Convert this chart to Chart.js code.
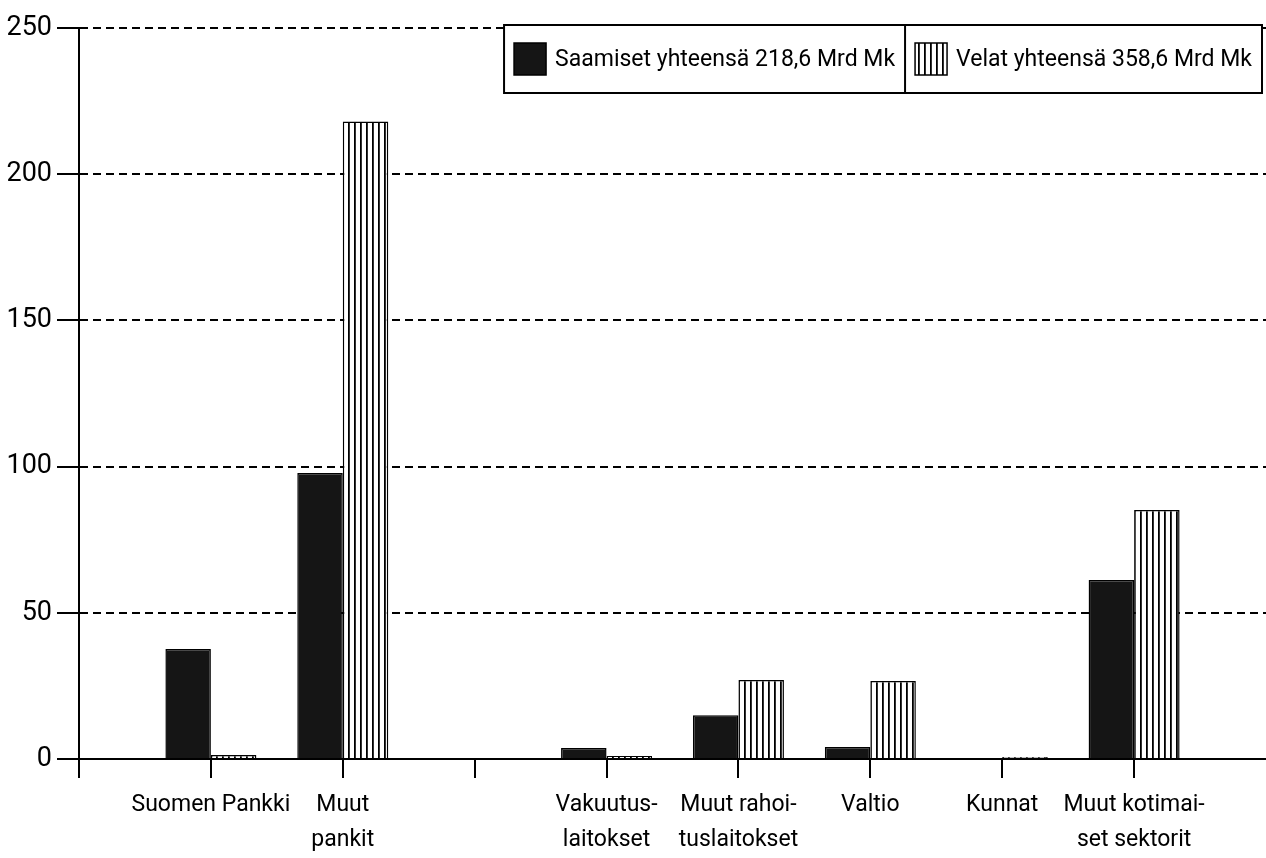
<!DOCTYPE html>
<html lang="fi">
<head>
  <meta charset="UTF-8" />
  <title>Saamiset ja velat</title>
  <style>
    body {
      margin: 0;
      background: #fff;
    }
    #kaavio {
      display: block;
    }
  </style>
</head>
<body>
  <canvas id="kaavio" width="1266" height="858"></canvas>

  <script src="https://cdn.jsdelivr.net/npm/chart.js"></script>
  <script>
    // tyhjät paikat alussa, välissä ja lopussa kuten alkuperäisessä
    const sektorit = ['', 'Suomen Pankki', ['Muut', 'pankit'], '', ['Vakuutus-', 'laitokset'],
      ['Muut rahoi-', 'tuslaitokset'], 'Valtio', 'Kunnat', ['Muut kotimai-', 'set sektorit'], ''];
    const saamiset = [null, 37.6, 97.8, null, 3.8, 15.0, 4.1, 0, 61.2, null];
    const velat = [null, 1.4, 218.0, null, 1.0, 27.0, 26.7, 0.7, 85.2, null];
    const yTikit = [0, 50, 100, 150, 200, 250];
    const otsikot = ['Saamiset yhteensä 218,6 Mrd Mk', 'Velat yhteensä 358,6 Mrd Mk'];

    const fontti = 'Roboto, "Liberation Sans", sans-serif';

    function raidat() {
      const c = document.createElement('canvas');
      c.width = 6; c.height = 6;
      const g = c.getContext('2d');
      g.fillStyle = '#fff';
      g.fillRect(0, 0, 6, 6);
      g.fillStyle = '#000';
      g.fillRect(0, 0, 1.8, 6);
      return g.createPattern(c, 'repeat');
    }
    const ctx = document.getElementById('kaavio').getContext('2d');
    const raitaKuvio = raidat();

    // selite laatikossa oikeassa yläkulmassa
    const selite = {
      id: 'selite',
      afterDraw(chart) {
        const g = chart.ctx;
        g.save();
        g.font = '23px ' + fontti;
        g.textBaseline = 'middle';
        const top = 25, h = 68, right = 1262;
        const osat = chart.data.datasets.map(d => 10 + 32 + 9 + g.measureText(d.label).width + 10);
        const left = right - osat.reduce((a, b) => a + b, 0);
        g.fillStyle = '#fff';
        g.fillRect(left, top, right - left, h);
        g.strokeStyle = '#000';
        g.lineWidth = 2;
        g.strokeRect(left, top, right - left, h);
        let x = left;
        chart.data.datasets.forEach((d, i) => {
          if (i > 0) {
            g.beginPath(); g.moveTo(x, top); g.lineTo(x, top + h); g.stroke();
          }
          g.fillStyle = d.backgroundColor;
          g.fillRect(x + 10, top + 18, 32, 32);
          g.lineWidth = 1.5;
          g.strokeRect(x + 10, top + 18, 32, 32);
          g.lineWidth = 2;
          g.fillStyle = '#000';
          g.fillText(d.label, x + 51, top + h / 2 + 1);
          x += osat[i];
        });
        g.restore();
      }
    };

    new Chart(ctx, {
      type: 'bar',
      data: {
        labels: sektorit,
        datasets: [
          { label: otsikot[0], data: saamiset, backgroundColor: '#151515', borderColor: '#000', borderWidth: 1.5 },
          { label: otsikot[1], data: velat, backgroundColor: raitaKuvio, borderColor: '#000', borderWidth: 1.5 }
        ]
      },
      options: {
        responsive: false,
        animation: false,
        devicePixelRatio: 1,
        layout: { padding: { top: 28, right: 0, left: 0, bottom: 0 } },
        categoryPercentage: 0.69,
        barPercentage: 1,
        plugins: {
          legend: { display: false },
          tooltip: { enabled: false }
        },
        scales: {
          x: {
            offset: false,
            grid: {
              offset: false,
              drawOnChartArea: false,
              color: c => c.index === 9 ? 'rgba(0,0,0,0)' : '#000',
              lineWidth: 2,
              tickLength: 19
            },
            border: { display: true, color: '#000', width: 2 },
            ticks: {
              autoSkip: false,
              maxRotation: 0,
              padding: 10,
              color: '#000',
              font: { family: fontti, size: 23, lineHeight: 1.5 }
            },
            afterFit: s => {
              s.height = 99;
              // viivat jatkuvat kuvan oikeaan reunaan asti
              s.paddingLeft = 0;
              s.paddingRight = 0;
            }
          },
          y: {
            min: 0,
            max: 250,
            afterBuildTicks: s => { s.ticks = yTikit.map(v => ({ value: v })); },
            grid: {
              color: '#000',
              lineWidth: 2,
              tickBorderDash: [],
              tickLength: 22,
              tickWidth: 2,
              tickColor: '#000'
            },
            border: { display: true, color: '#000', width: 2, dash: [8, 5] },
            ticks: {
              padding: 5,
              color: '#000',
              font: { family: fontti, size: 27 }
            },
            afterFit: s => { s.width = 79; }
          }
        }
      },
      plugins: [selite]
    });
  </script>
</body>
</html>
